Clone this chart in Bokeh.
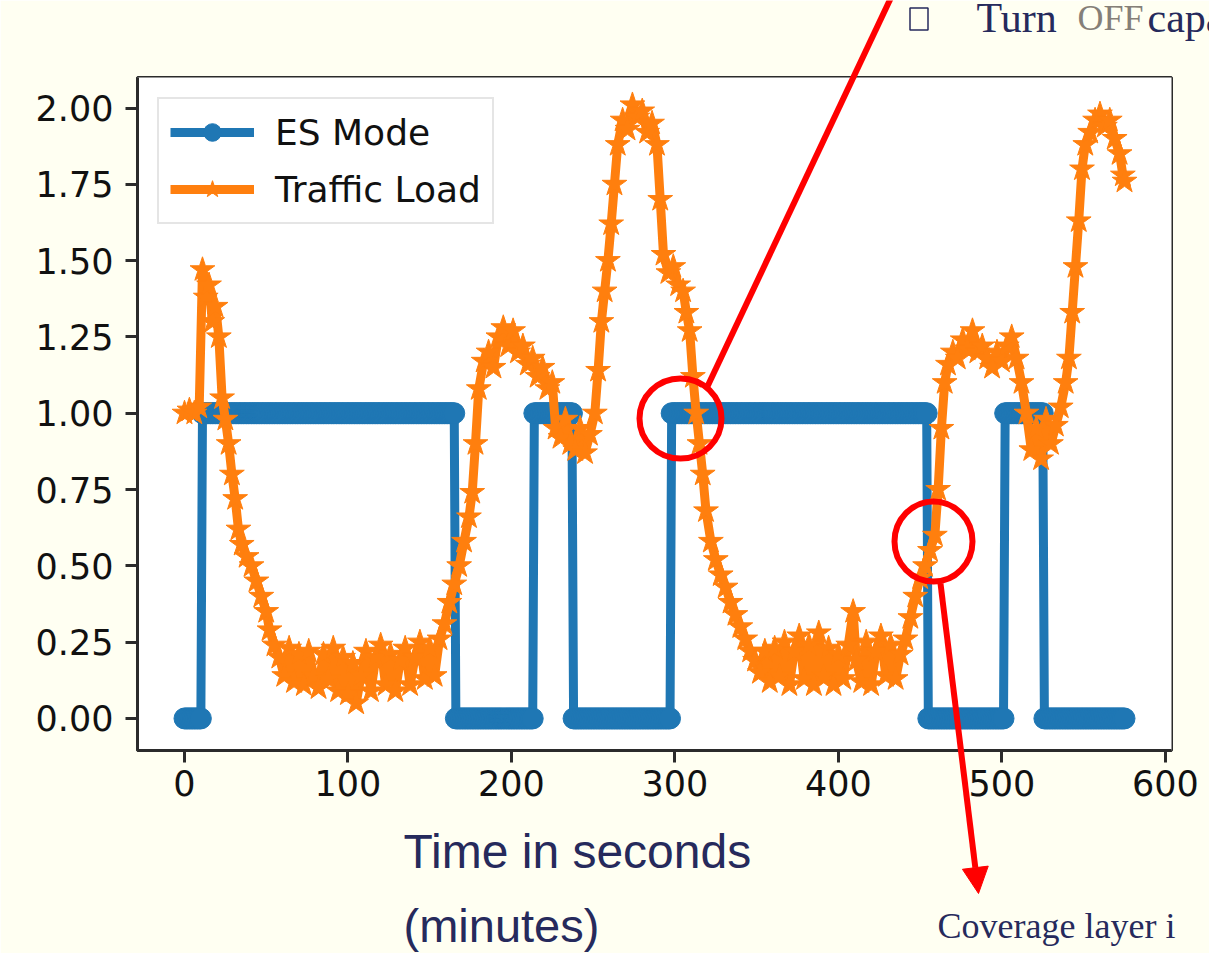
import numpy as np
from bokeh.plotting import figure
from bokeh.layouts import column
from bokeh.models import (FixedTicker, NumeralTickFormatter, Legend, LegendItem,
                          Arrow, NormalHead, BoxAnnotation, Range1d)
from bokeh.core.properties import value
from bokeh.embed import file_html
from bokeh.resources import INLINE

# ---------------- data ----------------
es_seg_start = [0, 11, 166, 214, 238, 298, 455, 502, 526]
es_seg_end = [10, 165, 213, 237, 297, 454, 501, 525, 575]
es_seg_state = [0, 1, 0, 1, 0, 1, 0, 1, 0]

traffic_t = [0, 3, 6, 9, 11, 13, 15, 17, 19, 21, 23, 25, 27, 29, 31, 33, 35, 38, 41, 44,
             47, 50, 52, 55, 58, 61, 64, 67, 70, 73, 76, 79, 82, 85, 88, 91, 94, 97, 100, 103,
             105, 108, 111, 114, 117, 120, 123, 126, 129, 132, 135, 138, 141, 144, 147, 150, 153, 156, 159, 162,
             165, 168, 171, 174, 176, 178, 180, 183, 186, 189, 192, 195, 198, 201, 204, 207, 210, 213, 216, 219,
             222, 225, 227, 230, 233, 236, 239, 242, 245, 248, 251, 253, 255, 257, 259, 261, 263, 265, 268, 271,
             274, 277, 280, 283, 286, 289, 291, 293, 296, 299, 302, 305, 307, 309, 311, 313, 315, 317, 319, 322,
             325, 328, 331, 334, 337, 340, 343, 346, 349, 352, 355, 358, 361, 364, 367, 370, 373, 376, 379, 382,
             385, 388, 391, 394, 397, 400, 403, 406, 409, 411, 414, 417, 420, 423, 426, 429, 432, 435, 438, 441,
             444, 447, 450, 453, 456, 459, 461, 463, 465, 467, 470, 473, 476, 479, 482, 485, 488, 491, 494, 497,
             500, 503, 506, 509, 512, 515, 518, 521, 524, 527, 530, 533, 536, 539, 541, 543, 545, 547, 549, 551,
             554, 557, 560, 563, 566, 569, 572, 574, 575]
traffic_v = [1.00, 1.01, 1.00, 1.02, 1.47, 1.38, 1.42, 1.30, 1.35, 1.25, 1.05, 0.98, 0.90, 0.80, 0.72, 0.62, 0.57, 0.53, 0.50, 0.45,
             0.40, 0.35, 0.29, 0.24, 0.20, 0.14, 0.23, 0.12, 0.21, 0.11, 0.22, 0.14, 0.10, 0.21, 0.13, 0.23, 0.09, 0.20, 0.08, 0.18,
             0.05, 0.14, 0.22, 0.09, 0.20, 0.24, 0.11, 0.21, 0.09, 0.19, 0.23, 0.11, 0.20, 0.25, 0.13, 0.23, 0.14, 0.26, 0.31, 0.38,
             0.44, 0.50, 0.58, 0.66, 0.74, 0.90, 1.08, 1.17, 1.20, 1.15, 1.25, 1.28, 1.22, 1.27, 1.20, 1.22, 1.16, 1.18, 1.12, 1.15,
             1.08, 1.10, 0.95, 0.92, 0.98, 0.90, 0.88, 0.95, 0.87, 0.93, 1.00, 1.14, 1.30, 1.40, 1.50, 1.62, 1.75, 1.88, 1.96, 1.93,
             2.01, 1.97, 1.99, 1.92, 1.95, 1.88, 1.70, 1.52, 1.46, 1.48, 1.42, 1.40, 1.33, 1.27, 1.12, 1.00, 0.90, 0.80, 0.68, 0.58,
             0.52, 0.47, 0.43, 0.38, 0.34, 0.30, 0.26, 0.22, 0.19, 0.15, 0.22, 0.12, 0.23, 0.14, 0.25, 0.11, 0.22, 0.27, 0.13, 0.24,
             0.11, 0.28, 0.14, 0.23, 0.11, 0.21, 0.13, 0.24, 0.35, 0.19, 0.12, 0.25, 0.11, 0.22, 0.27, 0.14, 0.24, 0.13, 0.21, 0.26,
             0.33, 0.40, 0.46, 0.50, 0.55, 0.60, 0.75, 0.95, 1.10, 1.16, 1.20, 1.18, 1.24, 1.21, 1.27, 1.20, 1.22, 1.18, 1.15, 1.20,
             1.17, 1.22, 1.25, 1.18, 1.10, 1.00, 0.88, 0.95, 0.85, 0.98, 0.90, 0.96, 1.02, 1.10, 1.18, 1.33, 1.48, 1.63, 1.80, 1.88,
             1.92, 1.96, 1.98, 1.94, 1.96, 1.90, 1.85, 1.78, 1.76]

x_ticks = [0, 100, 200, 300, 400, 500, 600]
y_ticks = [0.0, 0.25, 0.5, 0.75, 1.0, 1.25, 1.5, 1.75, 2.0]
series_names = ["ES Mode", "Traffic Load"]

es_t, es_v = [], []
for s, e, v in zip(es_seg_start, es_seg_end, es_seg_state):
    for t in range(s, e + 1):
        es_t.append(t)
        es_v.append(v)

# ---------------- chart ----------------
W, H = 1209, 953
FL, FR, FT, FB = 137, 1171, 77, 750
BLUE, ORANGE = "#1f77b4", "#ff7f0e"
NAVY = "#262a5c"

p = figure(width=W, height=H, x_range=Range1d(-28.75, 603.75), y_range=Range1d(-0.105, 2.1),
           output_backend="svg", toolbar_location=None,
           min_border_left=FL, min_border_right=W - FR, min_border_top=FT, min_border_bottom=H - FB)
p.frame_align = False
p.background_fill_color = "white"
p.border_fill_color = "#fffff2"
p.outline_line_color = "#2b2b2b"
p.outline_line_width = 3
p.outline_line_alpha = 1
p.grid.visible = False

p.xaxis.ticker = FixedTicker(ticks=x_ticks)
p.yaxis.ticker = FixedTicker(ticks=y_ticks)
p.yaxis.formatter = NumeralTickFormatter(format="0.00")
for ax in (p.xaxis[0], p.yaxis[0]):
    ax.axis_line_width = 3
    ax.axis_line_color = "#2b2b2b"
    ax.major_tick_line_width = 3
    ax.major_tick_line_color = "#2b2b2b"
    ax.major_tick_out = 12
    ax.major_tick_in = 0
    ax.minor_tick_out = 0
    ax.minor_tick_in = 0
    ax.major_label_text_font = "DejaVu Sans"
    ax.major_label_text_font_size = "35px"
    ax.major_label_text_color = "#111111"
p.xaxis.major_label_standoff = 7
p.yaxis.major_label_standoff = 12

# white slide region behind the chart (screen units are relative to the frame)
p.add_layout(BoxAnnotation(left=11 - FL, right=W - FL, top=FB - 4, bottom=FB - 832,
                           left_units="screen", right_units="screen", top_units="screen", bottom_units="screen",
                           fill_color="white", fill_alpha=1, line_color=None, level="image"))

es_line = p.line(es_t, es_v, line_width=9, color=BLUE)
es_pts = p.scatter(es_t, es_v, size=21, marker="circle", color=BLUE)
tr_line = p.line(traffic_t, traffic_v, line_width=9, color=ORANGE)
tr_pts = p.scatter(traffic_t, traffic_v, size=26, marker="star", color=ORANGE)

legend = Legend(items=[LegendItem(label=series_names[0], renderers=[es_line, es_pts]),
                       LegendItem(label=series_names[1], renderers=[tr_line, tr_pts])],
                location="top_left", margin=20, padding=11, spacing=13,
                glyph_width=84, glyph_height=44, label_height=44, label_standoff=21,
                label_text_font="DejaVu Sans", label_text_font_size="36px", label_text_color="#111111",
                border_line_color="#cccccc", border_line_width=2, background_fill_alpha=0.85)
p.add_layout(legend)

# ---------------- slide overlay (pixel coordinates of the slide) ----------------
q = figure(width=W, height=H, x_range=Range1d(0, W), y_range=Range1d(H, 0),
           x_axis_type=None, y_axis_type=None, output_backend="svg", toolbar_location=None,
           min_border=0, min_border_left=0, min_border_right=0, min_border_top=0, min_border_bottom=0)
q.frame_align = False
q.background_fill_alpha = 0
q.border_fill_alpha = 0
q.outline_line_color = None
q.grid.visible = False
q.margin = (-H, 0, 0, 0)

q.segment(x0=[891], y0=[-4], x1=[706], y1=[388], line_color="red", line_width=6)
q.add_layout(Arrow(end=NormalHead(size=26, fill_color="red", line_color="red", line_width=1),
                   x_start=940, y_start=583, x_end=978, y_end=893,
                   line_color="red", line_width=6))
q.ellipse(x=[680, 933], y=[418, 541], width=[82, 78], height=[80, 80],
          fill_alpha=0, line_color="red", line_width=6)
# the missing-glyph box that precedes the bullet text
q.rect(x=[918.5], y=[18.5], width=[18], height=[22], fill_alpha=0, line_color=NAVY, line_width=1.5)

slide_text = ["Time in seconds", "(minutes)", "Coverage layer i", "Turn", "OFF", "capa"]
slide_x = [403, 403, 937, 976, 1077, 1147]
slide_y = [851, 925, 925, 17, 17, 17]
slide_font = ["Liberation Sans", "Liberation Sans", "Liberation Serif",
              "Liberation Serif", "Liberation Serif", "Liberation Serif"]
slide_size = ["48px", "47px", "36px", "42px", "36px", "42px"]
slide_color = [NAVY, NAVY, NAVY, NAVY, "#857f78", NAVY]
for t, x, y, f, s, c in zip(slide_text, slide_x, slide_y, slide_font, slide_size, slide_color):
    q.text(x=[x], y=[y], text=[t], text_font=value(f), text_font_size=value(s), text_color=c,
           text_baseline="alphabetic", text_align="left")

layout = column(p, q, spacing=0)
open("out.html", "w").write(file_html(layout, INLINE))
